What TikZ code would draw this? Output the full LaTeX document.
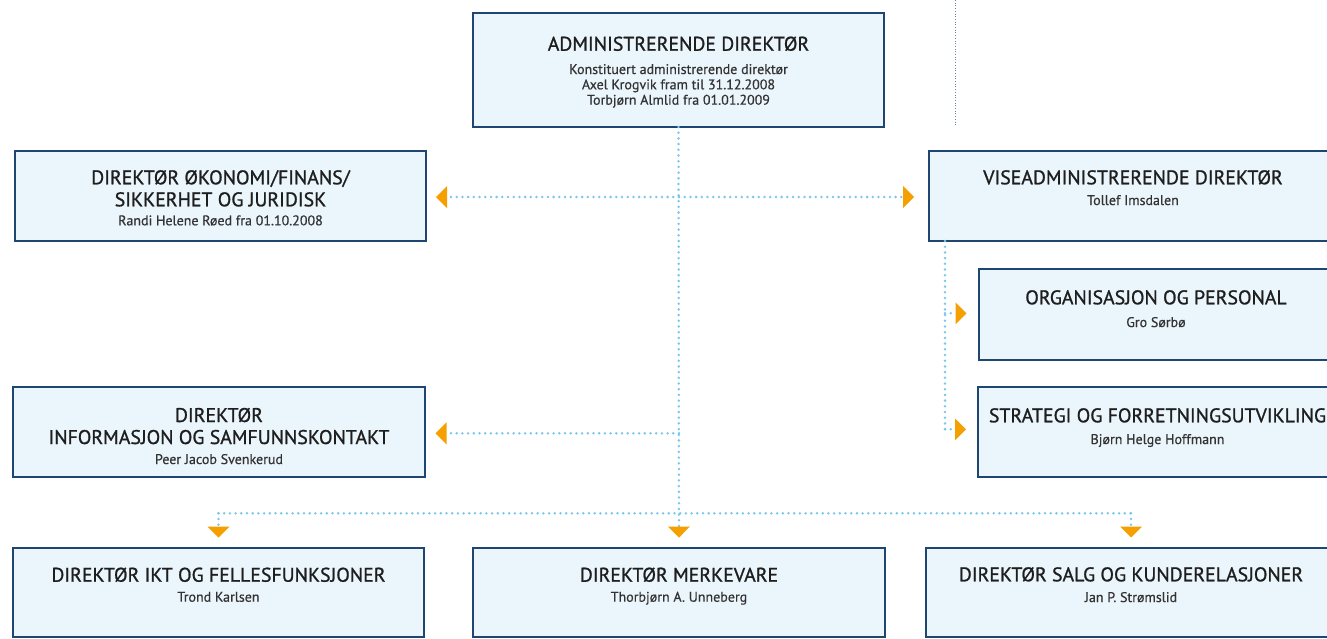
\documentclass[tikz,border=0pt]{standalone}
\usepackage{fontspec}
\setmainfont{PT Sans}
\newfontfamily\ttlfont[FakeBold=1.0]{PT Sans}
\newfontfamily\subfont[FakeBold=0.5]{PT Sans}
\usetikzlibrary{arrows.meta}
\definecolor{boxfill}{HTML}{EAF5FC}
\definecolor{boxline}{HTML}{1F4670}
\definecolor{connc}{HTML}{7CC8EA}
\definecolor{arrc}{HTML}{F5A000}
\definecolor{txtc}{HTML}{1E1E1E}
\definecolor{subc}{HTML}{333333}
\definecolor{guidec}{HTML}{6A86A6}
\begin{document}
\begin{tikzpicture}[x=1pt,y=-1pt,
 box/.style={draw=boxline, line width=1.3pt, fill=boxfill, inner sep=0pt, outer sep=0pt},
 ttl/.style={anchor=base, inner sep=0pt, font=\ttlfont\fontsize{19.8}{22}\selectfont, text=txtc},
 sub/.style={anchor=base, inner sep=0pt, font=\subfont\fontsize{14}{15}\selectfont, text=subc},
 conn/.style={draw=connc, line width=2.8pt, dash pattern=on 0pt off 5.7pt, line cap=round},
 tip/.style={-{Triangle[length=11pt,width=22pt,color=arrc,line width=0pt]}},
]
\useasboundingbox (0,0) rectangle (1327,638);

% boxes
\node[box, minimum width=411pt, minimum height=114pt] (admin) at (678.5,70) {};
\node[box, minimum width=411pt, minimum height=90pt] (okon) at (220.5,196) {};
\node[box, minimum width=412pt, minimum height=90pt] (info) at (219,432) {};
\node[box, minimum width=411pt, minimum height=90pt] (vise) at (1134.5,196) {};
\node[box, minimum width=361pt, minimum height=91pt] (org) at (1159.5,314.5) {};
\node[box, minimum width=362pt, minimum height=90pt] (strat) at (1159,432) {};
\node[box, minimum width=411pt, minimum height=89pt] (ikt) at (218.5,592.5) {};
\node[box, minimum width=412pt, minimum height=89pt] (merk) at (679,592.5) {};
\node[box, minimum width=410pt, minimum height=89pt] (salg) at (1131,592.5) {};

% texts
\node[ttl] (admin-t) at (678.5,50.7) {ADMINISTRERENDE DIREKTØR};
\node[sub] (admin-s1) at (678.5,74) {Konstituert administrerende direktør};
\node[sub] (admin-s2) at (678.5,89.3) {Axel Krogvik fram til 31.12.2008};
\node[sub] (admin-s3) at (678.5,104.7) {Torbjørn Almlid fra 01.01.2009};

\node[ttl] (okon-t1) at (220.5,184.3) {DIREKTØR ØKONOMI/FINANS/};
\node[ttl] (okon-t2) at (220.5,206.3) {SIKKERHET OG JURIDISK};
\node[sub] (okon-s) at (220.5,225.3) {Randi Helene Røed fra 01.10.2008};

\node[ttl] (info-t1) at (219,422) {DIREKTØR};
\node[ttl] (info-t2) at (219,444) {INFORMASJON OG SAMFUNNSKONTAKT};
\node[sub] (info-s) at (219,464) {Peer Jacob Svenkerud};

\node[ttl] (vise-t) at (1133,184.3) {VISEADMINISTRERENDE DIREKTØR};
\node[sub] (vise-s) at (1133,205) {Tollef Imsdalen};

\node[ttl] (org-t) at (1156,304.3) {ORGANISASJON OG PERSONAL};
\node[sub] (org-s) at (1156,327) {Gro Sørbø};

\node[ttl] (strat-t) at (1157.5,422.3) {STRATEGI OG FORRETNINGSUTVIKLING};
\node[sub] (strat-s) at (1157.5,444) {Bjørn Helge Hoffmann};

\node[ttl] (ikt-t) at (218.5,581.7) {DIREKTØR IKT OG FELLESFUNKSJONER};
\node[sub] (ikt-s) at (218.5,601.7) {Trond Karlsen};

\node[ttl] (merk-t) at (679,581.7) {DIREKTØR MERKEVARE};
\node[sub] (merk-s) at (679,601.7) {Thorbjørn A. Unneberg};

\node[ttl] (salg-t) at (1131,581.3) {DIREKTØR SALG OG KUNDERELASJONER};
\node[sub] (salg-s) at (1131,602) {Jan P. Strømslid};

% guide line top right
\coordinate (g1) at (955,0);
\coordinate (g2) at (955,125);
\draw[guidec, line width=0.9pt, dash pattern=on 1pt off 1.7pt] (g1) -- (g2);

% connectors
\coordinate (bus) at (679,513.3);
\coordinate (j1) at (679,197);
\coordinate (j2) at (679,433.3);
\draw[conn, tip, shorten >=10.5pt] (admin.south) -- (merk.north);
\draw[conn, tip, shorten >=10pt] (j1) -- (okon.east |- j1);
\draw[conn, tip, shorten >=15pt] (j1) -- (vise.west |- j1);
\draw[conn, tip, shorten >=10.5pt] (j2) -- (info.east |- j2);
\draw[conn] (ikt.north |- bus) -- (salg.north |- bus);
\draw[conn, tip, shorten >=10.5pt] (ikt.north |- bus) -- (ikt.north);
\draw[conn, tip, shorten >=10.5pt] (salg.north |- bus) -- (salg.north);

\coordinate (vb) at ([xshift=16pt]vise.south west);
\coordinate (vo) at (945,313.3);
\coordinate (vs) at (945,429.3);
\draw[conn] (vb) -- (vs);
\draw[conn, tip, shorten >=12.5pt] (vo) -- (org.west |- vo);
\draw[conn, tip, shorten >=12pt] (vs) -- (strat.west |- vs);
\end{tikzpicture}
\end{document}
